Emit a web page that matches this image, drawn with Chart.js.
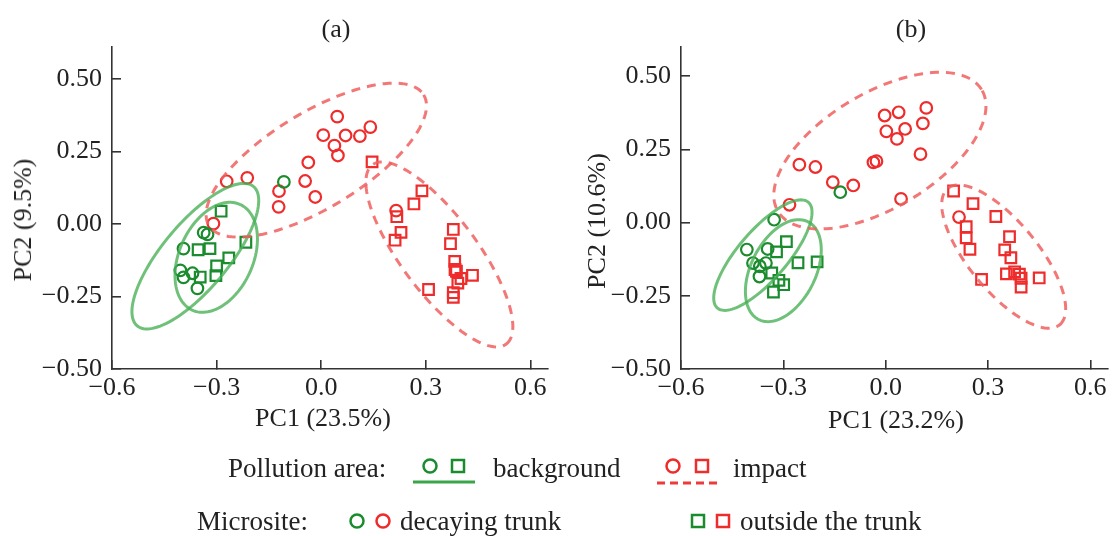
<!DOCTYPE html>
<html><head><meta charset="utf-8">
<script src="https://cdn.jsdelivr.net/npm/chart.js@4.4.1/dist/chart.umd.min.js"></script>
<style>
html,body{margin:0;padding:0;background:#fff;}
body{width:1120px;height:536px;position:relative;overflow:hidden;font-family:"Liberation Serif","Times New Roman",serif;color:#222;}
.wrap{position:absolute;top:0;height:440px;}
#wa{left:0;width:560px;}
#wb{left:566px;width:554px;}
.t{position:absolute;white-space:nowrap;line-height:1;}
.c{transform:translateX(-50%);}
.r{transform:translate(-50%,-50%) rotate(-90deg);}
svg{position:absolute;left:0;top:0;}
</style></head><body>
<div class="wrap" id="wa"><canvas id="ca"></canvas></div>
<div class="wrap" id="wb"><canvas id="cb"></canvas></div>

<div class="t c" style="left:336px;top:16px;font-size:26px;">(a)</div>
<div class="t c" style="left:911px;top:16px;font-size:26px;">(b)</div>
<div class="t c" style="left:323px;top:405px;font-size:26px;">PC1 (23.5%)</div>
<div class="t c" style="left:896px;top:407px;font-size:26px;">PC1 (23.2%)</div>
<div class="t r" style="left:23px;top:220px;font-size:26px;">PC2 (9.5%)</div>
<div class="t r" style="left:597px;top:221px;font-size:26px;">PC2 (10.6%)</div>

<svg width="1120" height="536" viewBox="0 0 1120 536">
  <circle cx="430" cy="466" r="6.5" fill="none" stroke="#1b8c2e" stroke-width="2.5"/>
  <rect x="452" y="460" width="12" height="12" fill="none" stroke="#1b8c2e" stroke-width="2.5"/>
  <line x1="413" y1="482" x2="475" y2="482" stroke="#3aa64a" stroke-width="3"/>
  <circle cx="673" cy="466" r="6.5" fill="none" stroke="#ee2c2c" stroke-width="2.5"/>
  <rect x="696" y="460" width="12" height="12" fill="none" stroke="#ee2c2c" stroke-width="2.5"/>
  <line x1="657" y1="483" x2="719" y2="483" stroke="#ee3a3a" stroke-width="3" stroke-dasharray="8,5"/>
  <circle cx="357" cy="521" r="6.5" fill="none" stroke="#1b8c2e" stroke-width="2.5"/>
  <circle cx="383" cy="521" r="6.5" fill="none" stroke="#ee2c2c" stroke-width="2.5"/>
  <rect x="692" y="515" width="12" height="12" fill="none" stroke="#1b8c2e" stroke-width="2.5"/>
  <rect x="717" y="515" width="12" height="12" fill="none" stroke="#ee2c2c" stroke-width="2.5"/>
</svg>
<div class="t" style="left:228px;top:455px;font-size:27px;">Pollution area:</div>
<div class="t" style="left:493px;top:455px;font-size:27px;">background</div>
<div class="t" style="left:733px;top:455px;font-size:27px;">impact</div>
<div class="t" style="left:197px;top:508px;font-size:27px;">Microsite:</div>
<div class="t" style="left:400px;top:508px;font-size:27px;">decaying trunk</div>
<div class="t" style="left:740px;top:508px;font-size:27px;">outside the trunk</div>

<script>
// ---------- tick values and labels ----------
const xTicks = [-0.6, -0.3, 0, 0.3, 0.6];
const xTickLabels = ['\u22120.6', '\u22120.3', '0.0', '0.3', '0.6'];
const yTicks = [-0.5, -0.25, 0, 0.25, 0.5];
const yTickLabels = ['\u22120.50', '\u22120.25', '0.00', '0.25', '0.50'];

// ---------- panel (a) ----------
const aBgTrunk = [[-0.107,0.145],[-0.337,-0.030],[-0.326,-0.036],[-0.395,-0.085],[-0.404,-0.160],[-0.395,-0.184],[-0.369,-0.170],[-0.355,-0.222]];
const aBgOutside = [[-0.287,0.044],[-0.353,-0.089],[-0.319,-0.085],[-0.265,-0.117],[-0.300,-0.145],[-0.302,-0.178],[-0.347,-0.183],[-0.216,-0.063]];
const aImTrunk = [[-0.271,0.147],[-0.212,0.159],[-0.309,0.001],[-0.121,0.113],[-0.122,0.059],[-0.046,0.148],[-0.037,0.212],[-0.017,0.093],[0.006,0.306],[0.038,0.270],[0.048,0.236],[0.046,0.370],[0.070,0.305],[0.111,0.303],[0.141,0.334],[0.215,0.046]];
const aImOutside = [[0.146,0.214],[0.289,0.114],[0.266,0.069],[0.217,0.025],[0.229,-0.029],[0.212,-0.056],[0.379,-0.019],[0.371,-0.068],[0.383,-0.129],[0.384,-0.157],[0.388,-0.163],[0.401,-0.188],[0.434,-0.177],[0.392,-0.204],[0.379,-0.237],[0.379,-0.253],[0.308,-0.226]];
// confidence ellipses (a): centre, semi-axis vectors u and v (data units)
const aEllGroup = ['background','background','impact','impact'];
const aEllCenter = [[-0.361,-0.111],[-0.301,-0.115],[-0.014,0.220],[0.339,-0.105]];
const aEllU = [[0.167,0.240],[0.069,0.182],[0.308,0.225],[0.192,-0.309]];
const aEllV = [[0.072,-0.073],[0.096,-0.053],[0.071,-0.141],[0.087,0.079]];

// ---------- panel (b) ----------
const bBgTrunk = [[-0.327,0.010],[-0.407,-0.092],[-0.346,-0.090],[-0.389,-0.138],[-0.369,-0.149],[-0.351,-0.138],[-0.370,-0.184],[-0.133,0.104]];
const bBgOutside = [[-0.291,-0.065],[-0.320,-0.100],[-0.257,-0.137],[-0.201,-0.134],[-0.334,-0.172],[-0.313,-0.197],[-0.299,-0.212],[-0.329,-0.237]];
const bImTrunk = [[-0.253,0.198],[-0.206,0.190],[-0.155,0.138],[-0.095,0.127],[-0.036,0.206],[-0.027,0.210],[-0.003,0.366],[0.038,0.377],[0.002,0.312],[0.033,0.286],[0.057,0.320],[0.119,0.392],[0.109,0.339],[0.102,0.234],[0.045,0.081],[-0.282,0.061],[0.215,0.019]];
const bImOutside = [[0.199,0.108],[0.256,0.065],[0.323,0.021],[0.236,-0.014],[0.236,-0.052],[0.247,-0.091],[0.363,-0.048],[0.349,-0.093],[0.367,-0.120],[0.354,-0.175],[0.378,-0.168],[0.392,-0.176],[0.397,-0.190],[0.397,-0.220],[0.450,-0.189],[0.281,-0.194]];
const bEllGroup = ['background','background','impact','impact'];
const bEllCenter = [[-0.360,-0.111],[-0.300,-0.164],[-0.017,0.246],[0.346,-0.116]];
const bEllU = [[0.134,0.180],[0.074,0.166],[0.300,0.205],[0.165,-0.232]];
const bEllV = [[0.053,-0.057],[0.083,-0.053],[0.082,-0.172],[0.076,0.078]];

// ---------- styling ----------
const GREEN = '#1b8c2e', RED = '#ee2c2c';
const ELL_STYLE = {
  background: {color:'rgba(70,175,85,0.78)', dash:[]},
  impact: {color:'rgba(240,95,95,0.85)', dash:[9,7]}
};

const ellipsePlugin = {
  id: 'ellipses',
  afterDatasetsDraw(chart, args, opts) {
    const {ctx} = chart; const xs = chart.scales.x, ys = chart.scales.y;
    ctx.save();
    opts.center.forEach((c, i) => {
      const u = opts.u[i], v = opts.v[i], st = ELL_STYLE[opts.group[i]];
      ctx.beginPath();
      const N = 120;
      for (let k = 0; k <= N; k++) {
        const t = 2 * Math.PI * k / N;
        const px = xs.getPixelForValue(c[0] + u[0] * Math.cos(t) + v[0] * Math.sin(t));
        const py = ys.getPixelForValue(c[1] + u[1] * Math.cos(t) + v[1] * Math.sin(t));
        if (k === 0) ctx.moveTo(px, py); else ctx.lineTo(px, py);
      }
      ctx.closePath();
      ctx.lineWidth = 3;
      ctx.strokeStyle = st.color;
      ctx.setLineDash(st.dash);
      ctx.stroke();
    });
    ctx.restore();
  }
};

function toPts(arr) { return arr.map(p => ({x: p[0], y: p[1]})); }
function ds(arr, color, style) {
  return {data: toPts(arr), pointStyle: style, pointRadius: style === 'rect' ? 7.5 : 5.8,
          pointBorderWidth: 2.2, pointBorderColor: color, pointBackgroundColor: 'rgba(0,0,0,0)',
          showLine: false, pointHoverRadius: style === 'rect' ? 7.5 : 5.8};
}

function makeChart(id, series, ell, yMax, yAxisWidth, padRight) {
  const tickFont = {family: '"Liberation Serif","Times New Roman",serif', size: 26};
  return new Chart(document.getElementById(id), {
    type: 'scatter',
    data: {datasets: [
      ds(series[0], GREEN, 'circle'), ds(series[1], GREEN, 'rect'),
      ds(series[2], RED, 'circle'), ds(series[3], RED, 'rect')
    ]},
    options: {
      responsive: true, maintainAspectRatio: false, animation: false,
      events: [],
      layout: {padding: {top: 47, right: padRight, left: 0, bottom: 0}},
      plugins: {legend: {display: false}, tooltip: {enabled: false}, ellipses: ell},
      scales: {
        x: {
          type: 'linear', position: 'bottom', min: -0.6, max: 0.65,
          border: {display: true, color: '#333', width: 1.6},
          grid: {display: true, drawOnChartArea: false, drawTicks: true, tickLength: -9, color: '#333', lineWidth: 1.6},
          ticks: {font: tickFont, color: '#222', padding: 13, autoSkip: false, maxRotation: 0, includeBounds: false,
                  callback: (v) => xTickLabels[xTicks.indexOf(v)]},
          afterBuildTicks: s => { s.ticks = xTicks.map(v => ({value: v})); },
          afterFit: s => { s.height = 71; }
        },
        y: {
          type: 'linear', position: 'left', min: -0.5, max: yMax,
          border: {display: true, color: '#333', width: 1.6},
          grid: {display: true, drawOnChartArea: false, drawTicks: true, tickLength: -9, color: '#333', lineWidth: 1.6},
          ticks: {font: tickFont, color: '#222', padding: 19, autoSkip: false, includeBounds: false,
                  callback: (v) => yTickLabels[yTicks.indexOf(v)]},
          afterBuildTicks: s => { s.ticks = yTicks.map(v => ({value: v})); },
          afterFit: s => { s.width = yAxisWidth; }
        }
      }
    },
    plugins: [ellipsePlugin]
  });
}

makeChart('ca', [aBgTrunk, aBgOutside, aImTrunk, aImOutside],
  {group: aEllGroup, center: aEllCenter, u: aEllU, v: aEllV}, 0.61, 112, 10);
makeChart('cb', [bBgTrunk, bBgOutside, bImTrunk, bImOutside],
  {group: bEllGroup, center: bEllCenter, u: bEllU, v: bEllV}, 0.60, 115, 2);
</script>
</body></html>
